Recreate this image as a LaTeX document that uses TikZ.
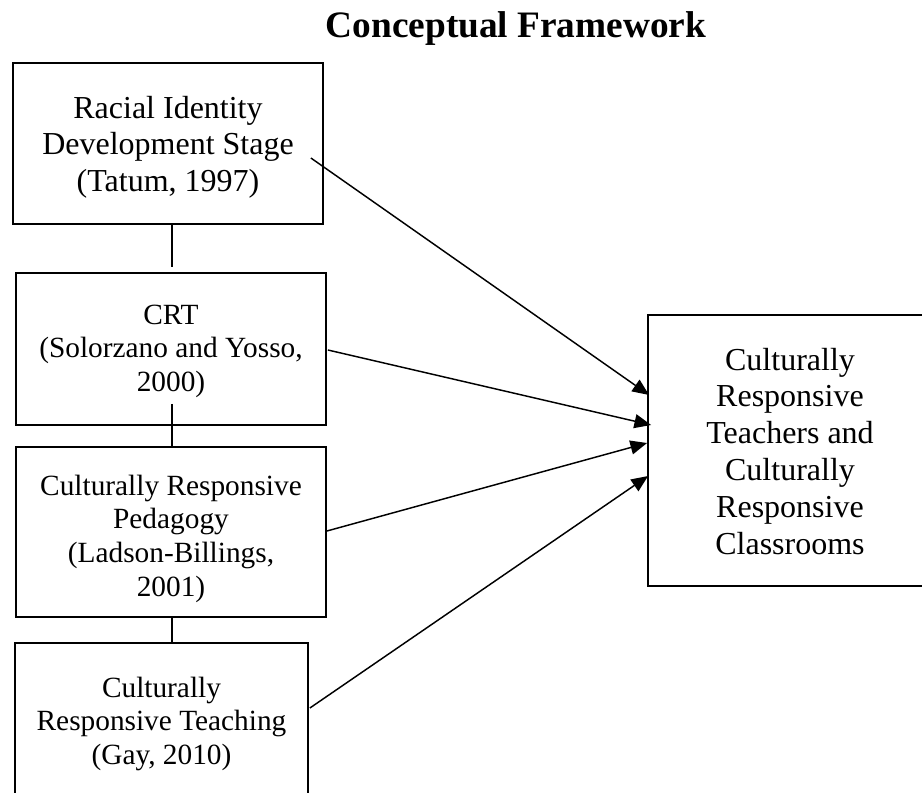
\documentclass[tikz,border=0pt]{standalone}
\usepackage{fontspec}
\setmainfont{Liberation Serif}
\usetikzlibrary{arrows.meta,calc}
\tikzset{
  box/.style={draw=black, line width=1.35pt, rectangle, inner sep=0pt},
  txt/.style={inner sep=0pt, anchor=base, text=black},
  big/.style={font=\fontsize{24}{27.6}\selectfont},
  small/.style={font=\fontsize{22}{25.3}\selectfont},
  link/.style={draw=black, line width=1.1pt},
  arr/.style={draw=black, line width=1.1pt, -{Triangle[length=12.5pt,width=10.5pt]}}
}
\begin{document}
\begin{tikzpicture}[x=0.75pt, y=-0.75pt]
\useasboundingbox (0,0) rectangle (922,793);
\clip (0,0) rectangle (922,793);
\fill[white] (0,0) rectangle (922,793);

% title
\node[txt, font=\fontsize{28}{32}\selectfont\bfseries] (title) at (516,37) {Conceptual Framework};

% boxes
\node[box, minimum width=310*0.75pt, minimum height=161*0.75pt] (b1) at (168,143.5) {};
\node[box, minimum width=310*0.75pt, minimum height=152*0.75pt] (b2) at (171,349) {};
\node[box, minimum width=310*0.75pt, minimum height=170*0.75pt] (b3) at (171,532) {};
\node[box, minimum width=293*0.75pt, minimum height=200*0.75pt] (b4) at (161.5,743) {};
\node[box, minimum width=284*0.75pt, minimum height=271*0.75pt] (b5) at (790,450.5) {};

% texts
\node[txt, big] (t1) at (168,118) {\begin{tabular}[t]{@{}c@{}}Racial Identity\\Development Stage\\(Tatum, 1997)\end{tabular}};
\node[txt, small] (t2) at (171,324) {\begin{tabular}[t]{@{}c@{}}CRT\\(Solorzano and Yosso,\\2000)\end{tabular}};
\node[txt, small] (t3) at (171,495) {\begin{tabular}[t]{@{}c@{}}Culturally Responsive\\Pedagogy\\(Ladson-Billings,\\2001)\end{tabular}};
\node[txt, small] (t4) at (161.5,697) {\begin{tabular}[t]{@{}c@{}}Culturally\\Responsive Teaching\\(Gay, 2010)\end{tabular}};
\node[txt, big] (t5) at (790,370) {\begin{tabular}[t]{@{}c@{}}Culturally\\Responsive\\Teachers and\\Culturally\\Responsive\\Classrooms\end{tabular}};

% vertical links
\draw[link] ($(b1.south)+(4,0)$) -- ($(b2.north)+(1,-5)$);
\draw[link] ($(b2.south)+(1,-22)$) -- ($(b3.north)+(1,0)$);
\draw[link] ($(b3.south)+(1,0)$) -- ($(b4.north)+(10.5,0)$);

% arrows
\draw[arr] ($(b1.east)+(-13,14.5)$) -- ($(b5.west)+(2,-55.5)$);
\draw[arr] ($(b2.east)+(1,1)$) -- ($(b5.west)+(4,-25.5)$);
\draw[arr] ($(b3.east)+(0,-1)$) -- ($(b5.west)+(0,-7.5)$);
\draw[arr] ($(b4.east)+(1,-35)$) -- ($(b5.west)+(1,25.5)$);
\end{tikzpicture}
\end{document}
